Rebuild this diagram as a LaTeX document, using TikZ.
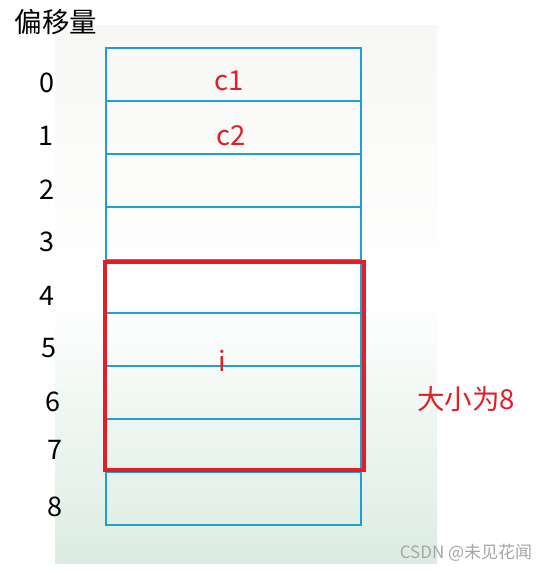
\documentclass[tikz,border=0pt]{standalone}
\usepackage{fontspec}
\setmainfont{Noto Sans CJK SC}
\usepackage{xcolor}
\usepackage{tikz}
\usetikzlibrary{positioning}
\definecolor{cellblue}{RGB}{30,160,212}
\definecolor{boxred}{RGB}{226,30,40}
\definecolor{bgtop}{RGB}{247,247,245}
\definecolor{bgbot}{RGB}{220,236,226}

\begin{document}
\begin{tikzpicture}[x=1pt,y=-1pt,
  cell/.style={cellblue, line width=1.4pt},
  lbl/.style={font=\fontsize{27}{27}\selectfont, black},
  redlbl/.style={font=\fontsize{27.5}{27.5}\selectfont, boxred}]
\useasboundingbox (0,0) rectangle (552,573);
\fill[white] (0,0) rectangle (552,573);
% background picture
\shade[top color=bgtop, bottom color=bgbot, middle color=white] (55,25) rectangle (437,563);
% memory cells
\draw[cell] (106,48) rectangle (361,525);
\draw[cell] (106,101) -- (361,101);
\draw[cell] (106,154) -- (361,154);
\draw[cell] (106,207) -- (361,207);
\draw[cell] (106,260) -- (361,260);
\draw[cell] (106,313) -- (361,313);
\draw[cell] (106,366) -- (361,366);
\draw[cell] (106,419) -- (361,419);
\draw[cell] (106,472) -- (361,472);
% the double i
\draw[boxred, line width=4.5pt] (105,262) rectangle (364,470);
\node[lbl, font=\fontsize{27.5}{27.5}\selectfont] (title) at (56,22) {偏移量};
\node[lbl] (off0) at (47,83) {0};
\node[lbl] (off1) at (46,136) {1};
\node[lbl] (off2) at (47,190) {2};
\node[lbl] (off3) at (47,242) {3};
\node[lbl] (off4) at (47,296) {4};
\node[lbl] (off5) at (49,348) {5};
\node[lbl] (off6) at (53,402) {6};
\node[lbl] (off7) at (55,450) {7};
\node[lbl] (off8) at (55,507) {8};
\node[redlbl] (c1) at (229,81) {c1};
\node[redlbl] (c2) at (231,136) {c2};
\node[redlbl] (i) at (222,361) {i};
\node[redlbl] (size) at (466,399) {大小为8};
\node[gray!70, font=\fontsize{17}{17}\selectfont] (mark) at (466,553) {CSDN @未见花闻};
\end{tikzpicture}
\end{document}
